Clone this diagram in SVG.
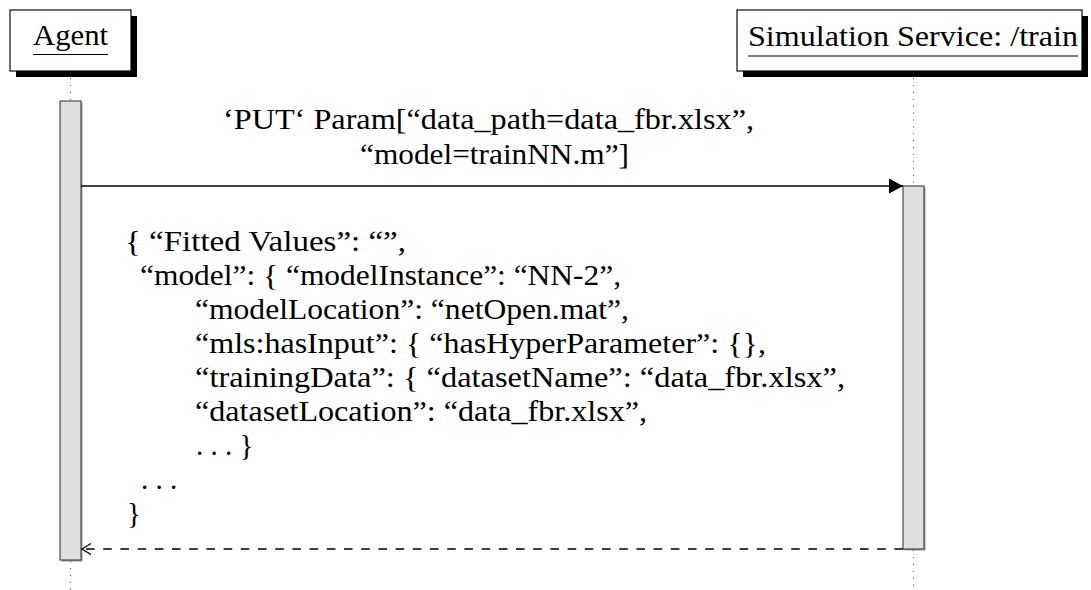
<svg xmlns="http://www.w3.org/2000/svg" width="1091" height="590" viewBox="0 0 1091 590">
<style>
text{font-family:"Liberation Serif","Times New Roman",serif;font-size:29px;fill:#000}
.head{fill:#fff;stroke:#000;stroke-width:1.15}
.shadow{fill:#000}
.ul{stroke:#000;stroke-width:1.15}
.life{stroke:#666;stroke-width:1.15;stroke-dasharray:1.15 5.75;fill:none}
.act{fill:#e0e0e0;stroke:#444;stroke-width:1.15}
.actsh{fill:#999}
.msg{stroke:#000;stroke-width:1.3;fill:none}
.ret{stroke:#000;stroke-width:1.3;fill:none;stroke-dasharray:8.6 8.6}
</style>
<defs>
<marker id="solidhead" markerUnits="userSpaceOnUse" markerWidth="15" markerHeight="16" refX="14" refY="7.5" orient="auto">
<path d="M0,0 L14,7.5 L0,15 z" fill="#000"/>
</marker>
<marker id="openhead" markerUnits="userSpaceOnUse" markerWidth="12" markerHeight="14" refX="10" refY="6" orient="auto">
<path d="M1,0.5 L10,6 L1,11.5" fill="none" stroke="#000" stroke-width="1.3" stroke-dasharray="none"/>
</marker>
</defs>

<g id="agent">
<line class="life" x1="70.5" y1="78" x2="70.5" y2="101"/>
<line class="life" x1="70.5" y1="561" x2="70.5" y2="590"/>
<rect class="shadow" x="16" y="16" width="121" height="61"/>
<rect class="head" x="10" y="10" width="121" height="61"/>
<text x="33" y="45" textLength="75" lengthAdjust="spacingAndGlyphs">Agent</text>
<line class="ul" x1="33" y1="54.5" x2="108" y2="54.5"/>
<rect class="actsh" x="61.5" y="102.5" width="21" height="459"/>
<rect class="act" x="60" y="101" width="21" height="459"/>
</g>

<g id="service">
<line class="life" x1="913.5" y1="78" x2="913.5" y2="186"/>
<line class="life" x1="913.5" y1="550" x2="913.5" y2="590"/>
<rect class="shadow" x="743" y="16" width="345" height="61"/>
<rect class="head" x="737" y="10" width="345" height="61"/>
<text x="748" y="46" textLength="330" lengthAdjust="spacingAndGlyphs">Simulation Service: /train</text>
<line class="ul" x1="748" y1="56" x2="1078" y2="56"/>
<rect class="actsh" x="904.5" y="187.5" width="21" height="363"/>
<rect class="act" x="903" y="186" width="21" height="363"/>
</g>

<g id="connectors">
<line class="msg" x1="81" y1="186" x2="903" y2="186" marker-end="url(#solidhead)"/>
<line class="ret" x1="903" y1="549" x2="82" y2="549" marker-end="url(#openhead)"/>
</g>

<g id="request-label">
<text x="223" y="129" textLength="531" lengthAdjust="spacingAndGlyphs">‘PUT‘ Param[“data_path=data_fbr.xlsx”,</text>
<text x="360" y="164" textLength="269" lengthAdjust="spacingAndGlyphs">“model=trainNN.m”]</text>
</g>

<g id="response-label">
<text x="125" y="251" textLength="281" lengthAdjust="spacingAndGlyphs">{ “Fitted Values”: “”,</text>
<text x="140" y="285" textLength="481" lengthAdjust="spacingAndGlyphs">“model”: { “modelInstance”: “NN-2”,</text>
<text x="195" y="319" textLength="434" lengthAdjust="spacingAndGlyphs">“modelLocation”: “netOpen.mat”,</text>
<text x="195" y="353" textLength="571" lengthAdjust="spacingAndGlyphs">“mls:hasInput”: { “hasHyperParameter”: {},</text>
<text x="195" y="387" textLength="650" lengthAdjust="spacingAndGlyphs">“trainingData”: { “datasetName”: “data_fbr.xlsx”,</text>
<text x="195" y="421" textLength="452" lengthAdjust="spacingAndGlyphs">“datasetLocation”: “data_fbr.xlsx”,</text>
<text x="196" y="455">. . . }</text>
<text x="141" y="489">. . .</text>
<text x="127" y="523">}</text>
</g>
</svg>
